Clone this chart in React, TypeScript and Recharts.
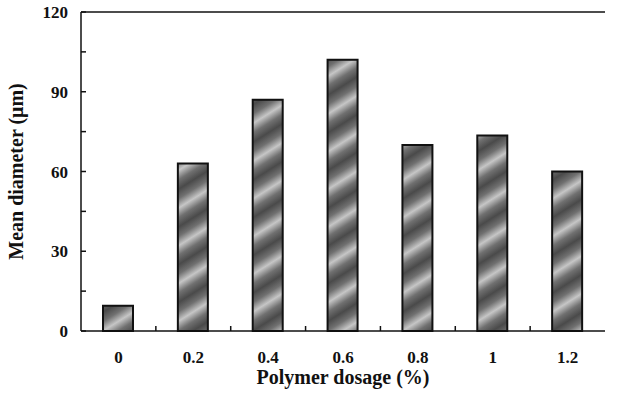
import React from 'react';
import { BarChart, Bar, XAxis, YAxis, ReferenceLine } from 'recharts';

const categories = ['0', '0.2', '0.4', '0.6', '0.8', '1', '1.2'];
const meanDiameter = [9.5, 63, 87, 102, 70, 73.5, 60];
const yMajorTicks = [0, 30, 60, 90, 120];
const yAllTicks = [0, 15, 30, 45, 60, 75, 90, 105, 120];
const yDomain = [0, 120];

const data = categories.map((c, i) => ({ dosage: c, diameter: meanDiameter[i] }));

const CHART_W = 618;
const CHART_H = 399;
const MARGIN = { top: 12, right: 13, bottom: 0, left: 0 };
const Y_AXIS_W = 81;
const X_AXIS_H = 68;
const Y_TICK_MARGIN = 13;
const X_TICK_MARGIN = 20;
const INNER_TICK = 5;

const FONT = '"Liberation Serif", "Times New Roman", serif';
const tickStyle = { fontFamily: FONT, fontWeight: 700, fontSize: 17, fill: '#111' };

const YTick = (props: any) => {
  const { x, y, payload } = props;
  const axisX = x + Y_TICK_MARGIN;
  const major = yMajorTicks.includes(payload.value);
  return (
    <g>
      <line x1={axisX} x2={axisX + INNER_TICK} y1={y} y2={y} stroke="#111" strokeWidth={1.5} />
      {major && (
        <text x={x} y={y} dy="0.355em" textAnchor="end" style={tickStyle}>
          {payload.value}
        </text>
      )}
    </g>
  );
};

const XTick = (props: any) => {
  const { x, y, payload, index, visibleTicksCount } = props;
  const plotW = CHART_W - MARGIN.left - MARGIN.right - Y_AXIS_W;
  const w = typeof props.width === 'number' && props.width > 0 ? props.width : plotW;
  const band = w / visibleTicksCount;
  const axisY = y - X_TICK_MARGIN;
  return (
    <g>
      {index < visibleTicksCount - 1 && (
        <line
          x1={x + band / 2}
          x2={x + band / 2}
          y1={axisY}
          y2={axisY - INNER_TICK}
          stroke="#111"
          strokeWidth={1.5}
        />
      )}
      <text x={x} y={y} dy="0.71em" textAnchor="middle" style={tickStyle}>
        {payload.value}
      </text>
    </g>
  );
};

export default function App() {
  return (
    <div style={{ position: 'absolute', left: 0, top: 0, background: '#fff' }}>
      <BarChart width={CHART_W} height={CHART_H} data={data} margin={MARGIN}>
        <defs>
          <linearGradient
            id="stripes"
            gradientUnits="userSpaceOnUse"
            spreadMethod="repeat"
            x1="0"
            y1="0"
            x2="17"
            y2="27"
          >
            <stop offset="0" stopColor="#4a4a4a" />
            <stop offset="0.25" stopColor="#707070" />
            <stop offset="0.5" stopColor="#c6c6c6" />
            <stop offset="0.75" stopColor="#707070" />
            <stop offset="1" stopColor="#4a4a4a" />
          </linearGradient>
        </defs>
        <XAxis
          dataKey="dosage"
          height={X_AXIS_H}
          tickLine={false}
          tickSize={0}
          tickMargin={X_TICK_MARGIN}
          axisLine={{ stroke: '#111', strokeWidth: 1.5 }}
          tick={<XTick />}
          interval={0}
          label={{
            value: 'Polymer dosage (%)',
            position: 'insideBottom',
            offset: 15,
            style: { fontFamily: FONT, fontWeight: 700, fontSize: 20, fill: '#111' },
          }}
        />
        <YAxis
          type="number"
          domain={yDomain}
          ticks={yAllTicks}
          interval={0}
          width={Y_AXIS_W}
          tickLine={false}
          tickSize={0}
          tickMargin={Y_TICK_MARGIN}
          axisLine={{ stroke: '#111', strokeWidth: 1.5 }}
          tick={<YTick />}
          label={{
            value: 'Mean diameter (μm)',
            angle: -90,
            position: 'insideLeft',
            offset: 16,
            style: { fontFamily: FONT, fontWeight: 700, fontSize: 20, fill: '#111', textAnchor: 'middle' },
          }}
        />
        <YAxis
          yAxisId="right"
          orientation="right"
          type="number"
          domain={yDomain}
          width={0}
          tick={false}
          tickLine={false}
          axisLine={{ stroke: '#111', strokeWidth: 1.5 }}
          allowDataOverflow
        />
        <ReferenceLine y={yDomain[1]} stroke="#111" strokeWidth={1.5} ifOverflow="visible" />
        <Bar
          dataKey="diameter"
          barSize={30}
          fill="url(#stripes)"
          stroke="#111"
          strokeWidth={2}
          isAnimationActive={false}
        />
      </BarChart>
    </div>
  );
}
